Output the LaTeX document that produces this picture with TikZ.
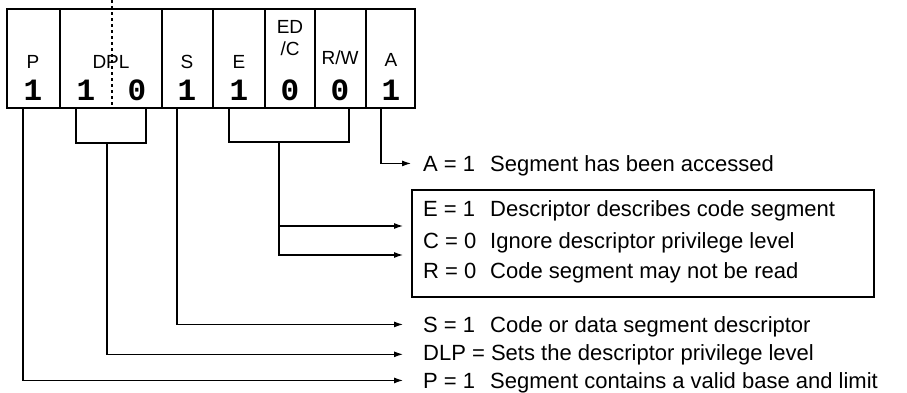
\documentclass[tikz,border=0pt]{standalone}
\usepackage{fontspec}
\setmainfont{Liberation Sans}
\setmonofont{Liberation Mono}
\usetikzlibrary{arrows.meta}

\tikzset{
  regline/.style={line width=2.6pt},
  tapline/.style={line width=1.1pt},
  tapthick/.style={line width=2.4pt},
  arr/.style={tapline,-{Latex[length=9pt,width=6pt]}},
  fldname/.style={font=\fontsize{19}{22}\selectfont},
  bitval/.style={font=\fontsize{31}{31}\selectfont\ttfamily\bfseries},
  expl/.style={anchor=base west,inner sep=0pt,font=\fontsize{22}{25}\selectfont},
}

\begin{document}
\begin{tikzpicture}[x=1pt,y=-1pt]
\useasboundingbox (0,0) rectangle (907,392);
% the access byte
\draw[regline] (7,9) rectangle (415,108);
\foreach \xd in {60,162,213,265,315,366}
  \draw[regline] (\xd,9) -- (\xd,108);
\draw[regline,dashed] (112,0) -- (112,108);
\foreach \nm/\xc/\yc in {P/33/62, DPL/111/62, S/187/62, E/239/62, A/391/60}
  \node[fldname] (n\nm) at (\xc,\yc) {\nm};
\node[fldname,align=center] (nEDC) at (290,38) {ED\\/C};
\node[fldname] (nRW) at (340,58) {R/W};
\foreach \nm/\xc/\b in {P/33/1, DPLa/86/1, DPLb/137/0, S/187/1, E/239/1, EDC/290/0, RW/340/0, A/391/1}
  \node[bitval] (b\nm) at (\xc,90) {\b};

% taps under the byte
\coordinate (tapP) at (23,108);
\coordinate (tapS) at (177,108);
\coordinate (tapA) at (381,108);
\coordinate (tapDPL) at (107,143);
\coordinate (tapE) at (279,142);
\draw[tapthick] (76,108) |- (146,143) -- (146,108);
\draw[tapthick] (229,108) |- (349,142) -- (349,108);

% explanations
\node[expl] (xA) at (423,171) {A = 1};
\node[expl] (dA) at (490,171) {Segment has been accessed};
\draw[regline] (412,190) rectangle (874,297);
\node[expl] (xE) at (423,216) {E = 1};
\node[expl] (dE) at (490,216) {Descriptor describes code segment};
\node[expl] (xC) at (423,248) {C = 0};
\node[expl] (dC) at (490,248) {Ignore descriptor privilege level};
\node[expl] (xR) at (423,278) {R = 0};
\node[expl] (dR) at (490,278) {Code segment may not be read};
\node[expl] (xS) at (423,332) {S = 1};
\node[expl] (dS) at (490,332) {Code or data segment descriptor};
\node[expl] (xDLP) at (423,360) {DLP = Sets the descriptor privilege level};
\node[expl] (xP) at (423,388) {P = 1};
\node[expl] (dP) at (490,388) {Segment contains a valid base and limit};

\coordinate (inE) at (403,226);
\coordinate (inC) at (403,255);

% connectors
\draw[arr] (tapA) |- ([xshift=-12pt]xA.west);
\draw[arr] (tapE) |- (inE);
\draw[arr] (tapE |- inE) |- (inC);
\draw[arr] (tapS) |- ([xshift=-20pt]xS.west);
\draw[arr] (tapDPL) |- ([xshift=-20pt]xDLP.west);
\draw[arr] (tapP) |- ([xshift=-20pt]xP.west);
\end{tikzpicture}
\end{document}
